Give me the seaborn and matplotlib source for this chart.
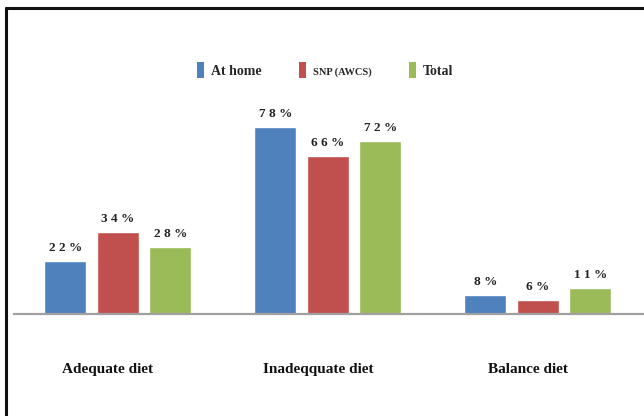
import matplotlib
matplotlib.use("Agg")
import matplotlib.pyplot as plt
import matplotlib.transforms as mtransforms
from matplotlib.lines import Line2D
import seaborn as sns
import pandas as pd

categories = ["Adequate diet", "Inadeqquate diet", "Balance diet"]
series_names = ["At home", "SNP (AWCS)", "Total"]
at_home = [22, 78, 8]
snp_awcs = [34, 66, 6]
total = [28, 72, 11]
colors = ["#4F81BD", "#C0504D", "#9BBB59"]

rows = []
for name, vals in zip(series_names, [at_home, snp_awcs, total]):
    for c, v in zip(categories, vals):
        rows.append({"category": c, "series": name, "value": v})
df = pd.DataFrame(rows)

sns.set_theme(style="white")
plt.rcParams["font.family"] = ["Liberation Serif", "DejaVu Serif"]

W, H = 644, 416
fig = plt.figure(figsize=(W / 100, H / 100), dpi=100)
ax_left, ax_right = 14, 644
ax_bottom, ax_top = 314, 74
ax = fig.add_axes([ax_left / W, 1 - ax_bottom / H, (ax_right - ax_left) / W, (ax_bottom - ax_top) / H])

sns.barplot(data=df, x="category", y="value", hue="series", palette=colors,
            order=categories, hue_order=series_names, width=0.75, gap=0.2,
            saturation=1, ax=ax, legend=False, errorbar=None)

ax.set_xlim(-0.495, 2.505)
ax.set_ylim(0, 100)
ax.set_xlabel("")
ax.set_ylabel("")
ax.set_yticks([])
for s in ["top", "left", "right"]:
    ax.spines[s].set_visible(False)
ax.spines["bottom"].set_color("#a0a0a0")
ax.spines["bottom"].set_linewidth(1.6)
ax.tick_params(axis="x", length=0, pad=35)
for lab in ax.get_xticklabels():
    lab.set_fontweight("bold")
    lab.set_fontsize(11)
    lab.set_color("#111111")
    lab.set_transform(lab.get_transform() + mtransforms.ScaledTranslation(-10 / 100, 0, fig.dpi_scale_trans))

for cont in ax.containers:
    for rect in cont:
        h = rect.get_height()
        txt = " ".join(list(f"{int(round(h))}")) + " %"
        ax.annotate(txt, (rect.get_x() + rect.get_width() / 2, h),
                    xytext=(0, 5), textcoords="offset points",
                    ha="center", va="bottom", fontsize=9.5, fontweight="bold",
                    color="#222222")

handles = [plt.Rectangle((0, 0), 1, 1, facecolor=c, edgecolor="none") for c in colors]
leg = fig.legend(handles, series_names, loc="center", ncol=3,
                 bbox_to_anchor=(325 / W, 1 - 70 / H), bbox_transform=fig.transFigure,
                 frameon=False, handlelength=0.5, handleheight=1.45,
                 handletextpad=0.5, columnspacing=2.7,
                 prop={"family": "Liberation Serif", "weight": "bold", "size": 10})
for t in leg.get_texts():
    if t.get_text() == "SNP (AWCS)":
        t.set_fontsize(7.5)

# figure frame (top and left edges)
fig.add_artist(Line2D([6 / W, 1], [1 - 8 / H, 1 - 8 / H], transform=fig.transFigure,
                      color="#111111", linewidth=2.2))
fig.add_artist(Line2D([6 / W, 6 / W], [0, 1 - 8 / H], transform=fig.transFigure,
                      color="#111111", linewidth=2.2))

fig.savefig("out.png", dpi=100)
